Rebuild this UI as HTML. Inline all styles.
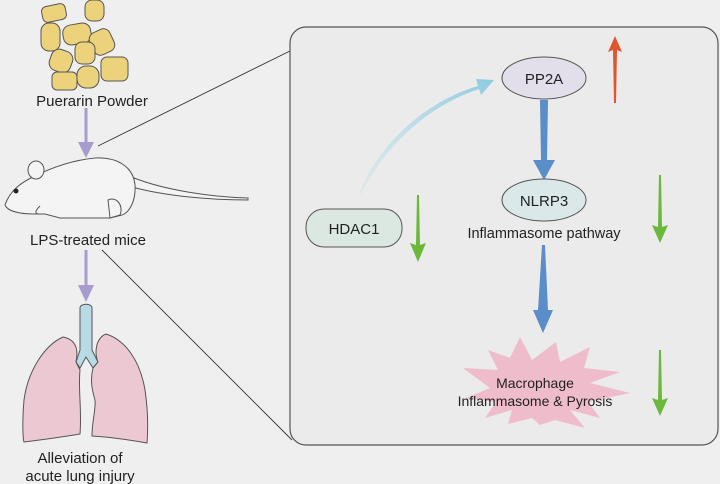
<!DOCTYPE html>
<html><head><meta charset="utf-8"><style>
body{margin:0;background:#efefef}
svg{display:block}
text{font-family:"Liberation Sans",sans-serif;fill:#222}
</style></head><body>
<svg width="720" height="484" viewBox="0 0 720 484">
<defs>
<linearGradient id="cg" x1="0" y1="1" x2="1" y2="0"><stop offset="0" stop-color="#bfe0ea" stop-opacity="0.3"/><stop offset="1" stop-color="#8ccbe0"/></linearGradient>
</defs>
<rect width="720" height="484" fill="#efefef"/>
<line x1="98" y1="146" x2="292" y2="50" stroke="#333" stroke-width="0.9"/>
<line x1="102" y1="250" x2="292" y2="440" stroke="#333" stroke-width="0.9"/>
<rect x="290" y="27" width="428" height="418" rx="16" fill="#ebebeb" stroke="#555" stroke-width="1.2"/>
<g fill="#ecd27a" stroke="#555" stroke-width="1">
<rect x="42" y="5" width="24" height="16" rx="5" transform="rotate(-12 54 13)"/>
<rect x="85" y="0" width="19" height="21" rx="7"/>
<rect x="41" y="23" width="19" height="28" rx="8"/>
<rect x="63" y="24" width="28" height="20" rx="8" transform="rotate(-10 77 34)"/>
<rect x="91" y="30" width="22" height="24" rx="7" transform="rotate(-25 102 42)"/>
<rect x="75" y="42" width="20" height="22" rx="7"/>
<rect x="50" y="50" width="22" height="22" rx="8" transform="rotate(20 61 61)"/>
<rect x="101" y="57" width="27" height="24" rx="6"/>
<rect x="52" y="72" width="25" height="18" rx="5"/>
<rect x="77" y="66" width="22" height="22" rx="9"/>
</g>
<text x="92" y="106" text-anchor="middle" font-size="15">Puerarin Powder</text>
<g fill="#a89bcd">
<rect x="84.5" y="108" width="3" height="38"/><polygon points="78,142 94,142 86,158"/></g>
<g fill="#f4f4f4" stroke="#555" stroke-width="1">
<path d="M134,178 C165,190 210,197 248,198 L248,200 C210,200 165,196 132,187Z"/>
<path d="M5,205 C10,190 22,182 35,176 C55,166 75,160 95,158 C115,157 133,165 135,185 C136,200 130,212 122,215 L110,218 L60,218 L45,214 L35,214 C22,214 8,212 5,205Z"/>
<ellipse cx="36" cy="170" rx="8" ry="9"/>
<path d="M108,200 C116,196 124,205 120,215 L110,218Z"/>
<path d="M40,206 C36,210 34,213 38,214"/>
</g>
<circle cx="16" cy="191" r="2.5" fill="#222"/>
<text x="88" y="245" text-anchor="middle" font-size="15">LPS-treated mice</text>
<g fill="#a89bcd">
<rect x="84.5" y="250" width="3" height="36"/><polygon points="78,285 94,285 86,302"/></g>
<g stroke="#555" stroke-width="1">
<path d="M80,308 C80,303 92,303 92,308 L92,350 L98,362 L93,368 L86,357 L80,368 L76,362 L80,350Z" fill="#b9dbe6"/>
<path d="M63,337 C45,345 28,370 24,400 C22,420 23,440 24,442 C40,440 62,437 80,434 C82,410 78,390 80,370 L76,362 C78,352 78,340 63,337Z" fill="#ecc8d2"/>
<path d="M106,334 C125,340 140,360 145,390 C148,410 148,430 147,443 C130,440 110,437 92,436 C92,420 96,410 95,400 C92,390 90,380 93,368 L98,362 C94,352 96,338 106,334Z" fill="#ecc8d2"/>
</g>
<text x="80" y="463" text-anchor="middle" font-size="15">Alleviation of</text>
<text x="80" y="481" text-anchor="middle" font-size="15">acute lung injury</text>
<path d="M359,194 C380,140 430,100 478,86 L476,79 L494,80 L481,95 L479,89 C432,104 385,144 361,194Z" fill="url(#cg)"/>
<ellipse cx="544" cy="78" rx="42" ry="21" fill="#e3dfea" stroke="#555"/>
<text x="544" y="84" text-anchor="middle" font-size="15">PP2A</text>
<polygon points="540,100 548,100 547,160 555,160 544,180 533,160 541,160" fill="#5b8dc8"/>
<ellipse cx="544" cy="200" rx="42" ry="21" fill="#dae8ea" stroke="#555"/>
<text x="544" y="206" text-anchor="middle" font-size="15">NLRP3</text>
<text x="544" y="238" text-anchor="middle" font-size="14.5">Inflammasome pathway</text>
<polygon points="542,245 545,245 548,310 553,310 543,333 533,310 538,310" fill="#5b8dc8"/>
<rect x="306" y="209" width="96" height="38" rx="18" fill="#dbe8e2" stroke="#555"/>
<text x="354" y="234" text-anchor="middle" font-size="15">HDAC1</text>
<polygon points="520,337 532,360 556,342 560,362 590,347 584,368 620,372 590,383 630,393 588,402 600,418 570,410 585,428 555,420 540,425 532,418 508,424 512,410 485,418 496,402 466,398 490,388 463,368 498,370 488,350 510,358" fill="#efbccb"/>
<text x="535" y="388" text-anchor="middle" font-size="14">Macrophage</text>
<text x="535" y="406" text-anchor="middle" font-size="14">Inflammasome &amp; Pyrosis</text>
<polygon points="615,36 622,52 617,50 616,103 614,103 613,50 608,52" fill="#e1552e"/>
<polygon points="417,195 419,195 420,245 426,243 418,262 410,243 416,245" fill="#6cb83a"/>
<polygon points="659,175 661,175 662,227 668,225 660,243 652,225 658,227" fill="#6cb83a"/>
<polygon points="659,350 661,350 662,400 668,398 660,416 652,398 658,400" fill="#6cb83a"/>
</svg>
</body></html>
